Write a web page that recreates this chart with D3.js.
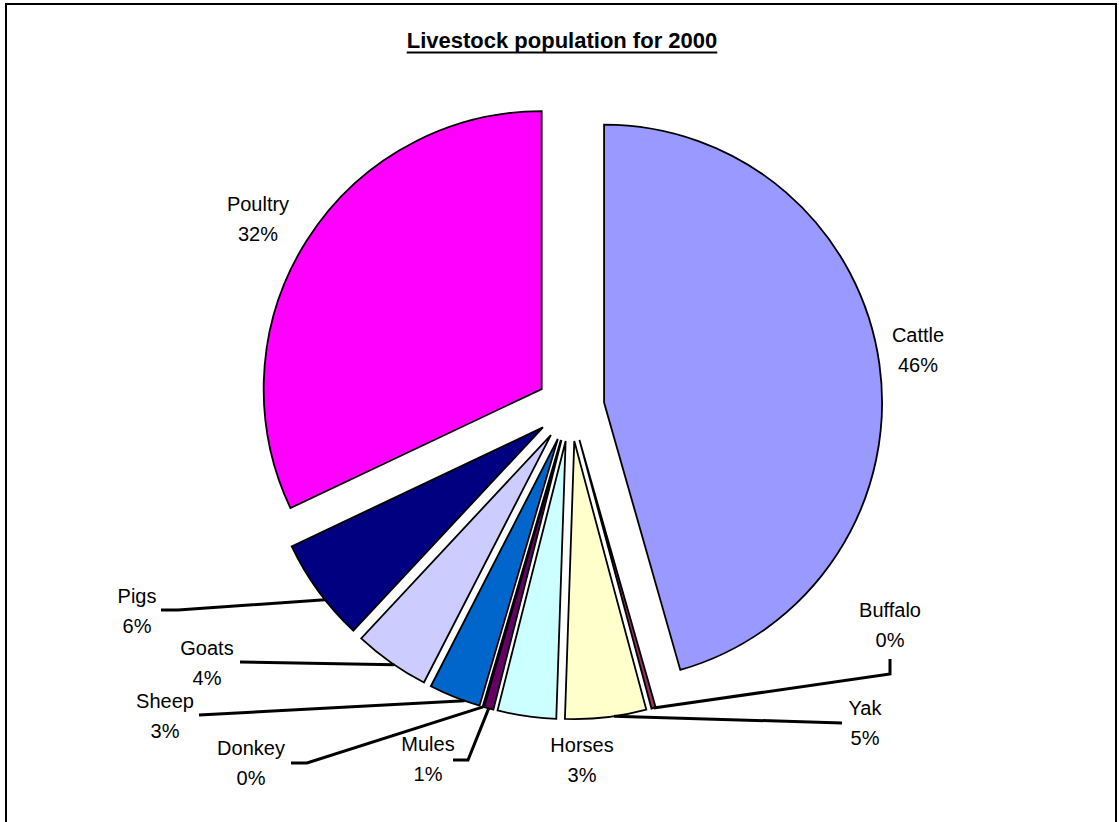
<!DOCTYPE html>
<html><head><meta charset="utf-8">
<script src="https://cdn.jsdelivr.net/npm/d3@7"></script>
<style>html,body{margin:0;padding:0;background:#fff}svg{display:block}</style>
</head><body>
<svg id="chart" width="1119" height="822"></svg>
<script>
// ---- data ----
const categories = ["Cattle","Buffalo","Yak","Horses","Mules","Donkey","Sheep","Goats","Pigs","Poultry"];
const values = [45.52, 0.25, 4.7, 3.4, 0.55, 0.05, 3.0, 4.4, 6.0, 32.0];
const title = "Livestock population for 2000";

// ---- styles / layout ----
const colors = ["#9999FF","#993366","#FFFFCC","#CCFFFF","#660066","#FF8080","#0066CC","#CCCCFF","#000080","#FF00FF"];
const cx = 570.4, cy = 407.3, R = 278, explode = 34;
const labelLayout = {
  Cattle:  {x: 918, y: 335},
  Buffalo: {x: 890, y: 610, leader: [[890, 659], [890, 674]], at: 0},
  Yak:     {x: 865, y: 708, leader: [[842, 723]], at: -0.1},
  Horses:  {x: 582, y: 745},
  Mules:   {x: 428, y: 744, leader: [[453, 760], [468, 760]], at: 0},
  Donkey:  {x: 251, y: 748, leader: [[291, 763], [307, 763]], at: 0},
  Sheep:   {x: 165, y: 701, leader: [[199, 715]], at: -0.2},
  Goats:   {x: 207, y: 648, leader: [[240, 662]], at: -0.05},
  Pigs:    {x: 137, y: 596, leader: [[161, 610], [178, 610]], at: -0.1},
  Poultry: {x: 258, y: 204}
};

const svg = d3.select("#chart");
svg.append("rect").attr("x", 6).attr("y", 4).attr("width", 1110).attr("height", 840)
  .attr("fill", "#fff").attr("stroke", "#000").attr("stroke-width", 2);

// title
const t = svg.append("text").attr("x", 562).attr("y", 48).attr("text-anchor", "middle")
  .attr("font-family", "Liberation Sans, Arial, sans-serif").attr("font-weight", "bold")
  .attr("font-size", 22).attr("fill", "#000").text(title);
const tb = t.node().getBBox();
svg.append("line").attr("x1", tb.x).attr("x2", tb.x + tb.width).attr("y1", 52.5).attr("y2", 52.5)
  .attr("stroke", "#000").attr("stroke-width", 1.8);

const data = categories.map((c, i) => ({name: c, value: values[i], color: colors[i]}));
const total = d3.sum(values);
const pie = d3.pie().value(d => d.value).sort(null);
const arcs = pie(data);
const arc = d3.arc().innerRadius(0).outerRadius(R);

const g = svg.append("g").attr("transform", `translate(${cx},${cy})`);
const offset = a => {
  const m = (a.startAngle + a.endAngle) / 2;
  return [explode * Math.sin(m), -explode * Math.cos(m)];
};
g.selectAll("path.slice").data(arcs).join("path")
  .attr("class", "slice")
  .attr("transform", d => { const o = offset(d); return `translate(${o[0]},${o[1]})`; })
  .attr("d", arc)
  .attr("fill", d => d.data.color)
  .attr("stroke", "#000").attr("stroke-width", 1.8).attr("stroke-linejoin", "miter");

// leader lines
const line = d3.line();
arcs.forEach(a => {
  const L = labelLayout[a.data.name];
  if (!L.leader) return;
  const m = (a.startAngle + a.endAngle) / 2 + (L.at || 0) * (a.endAngle - a.startAngle);
  const o = offset(a);
  const px = cx + o[0] + R * Math.sin(m), py = cy + o[1] - R * Math.cos(m);
  svg.append("path").attr("d", line([...L.leader, [px, py]]))
    .attr("fill", "none").attr("stroke", "#000").attr("stroke-width", 3);
});

// labels
const fmt = v => Math.round(v / total * 100) + "%";
arcs.forEach(a => {
  const L = labelLayout[a.data.name];
  const txt = svg.append("text").attr("text-anchor", "middle")
    .attr("font-family", "Liberation Sans, Arial, sans-serif").attr("font-size", 20).attr("fill", "#000");
  txt.append("tspan").attr("x", L.x).attr("y", L.y + 7).text(a.data.name);
  txt.append("tspan").attr("x", L.x).attr("y", L.y + 37).text(fmt(a.data.value));
});
</script>
</body></html>
